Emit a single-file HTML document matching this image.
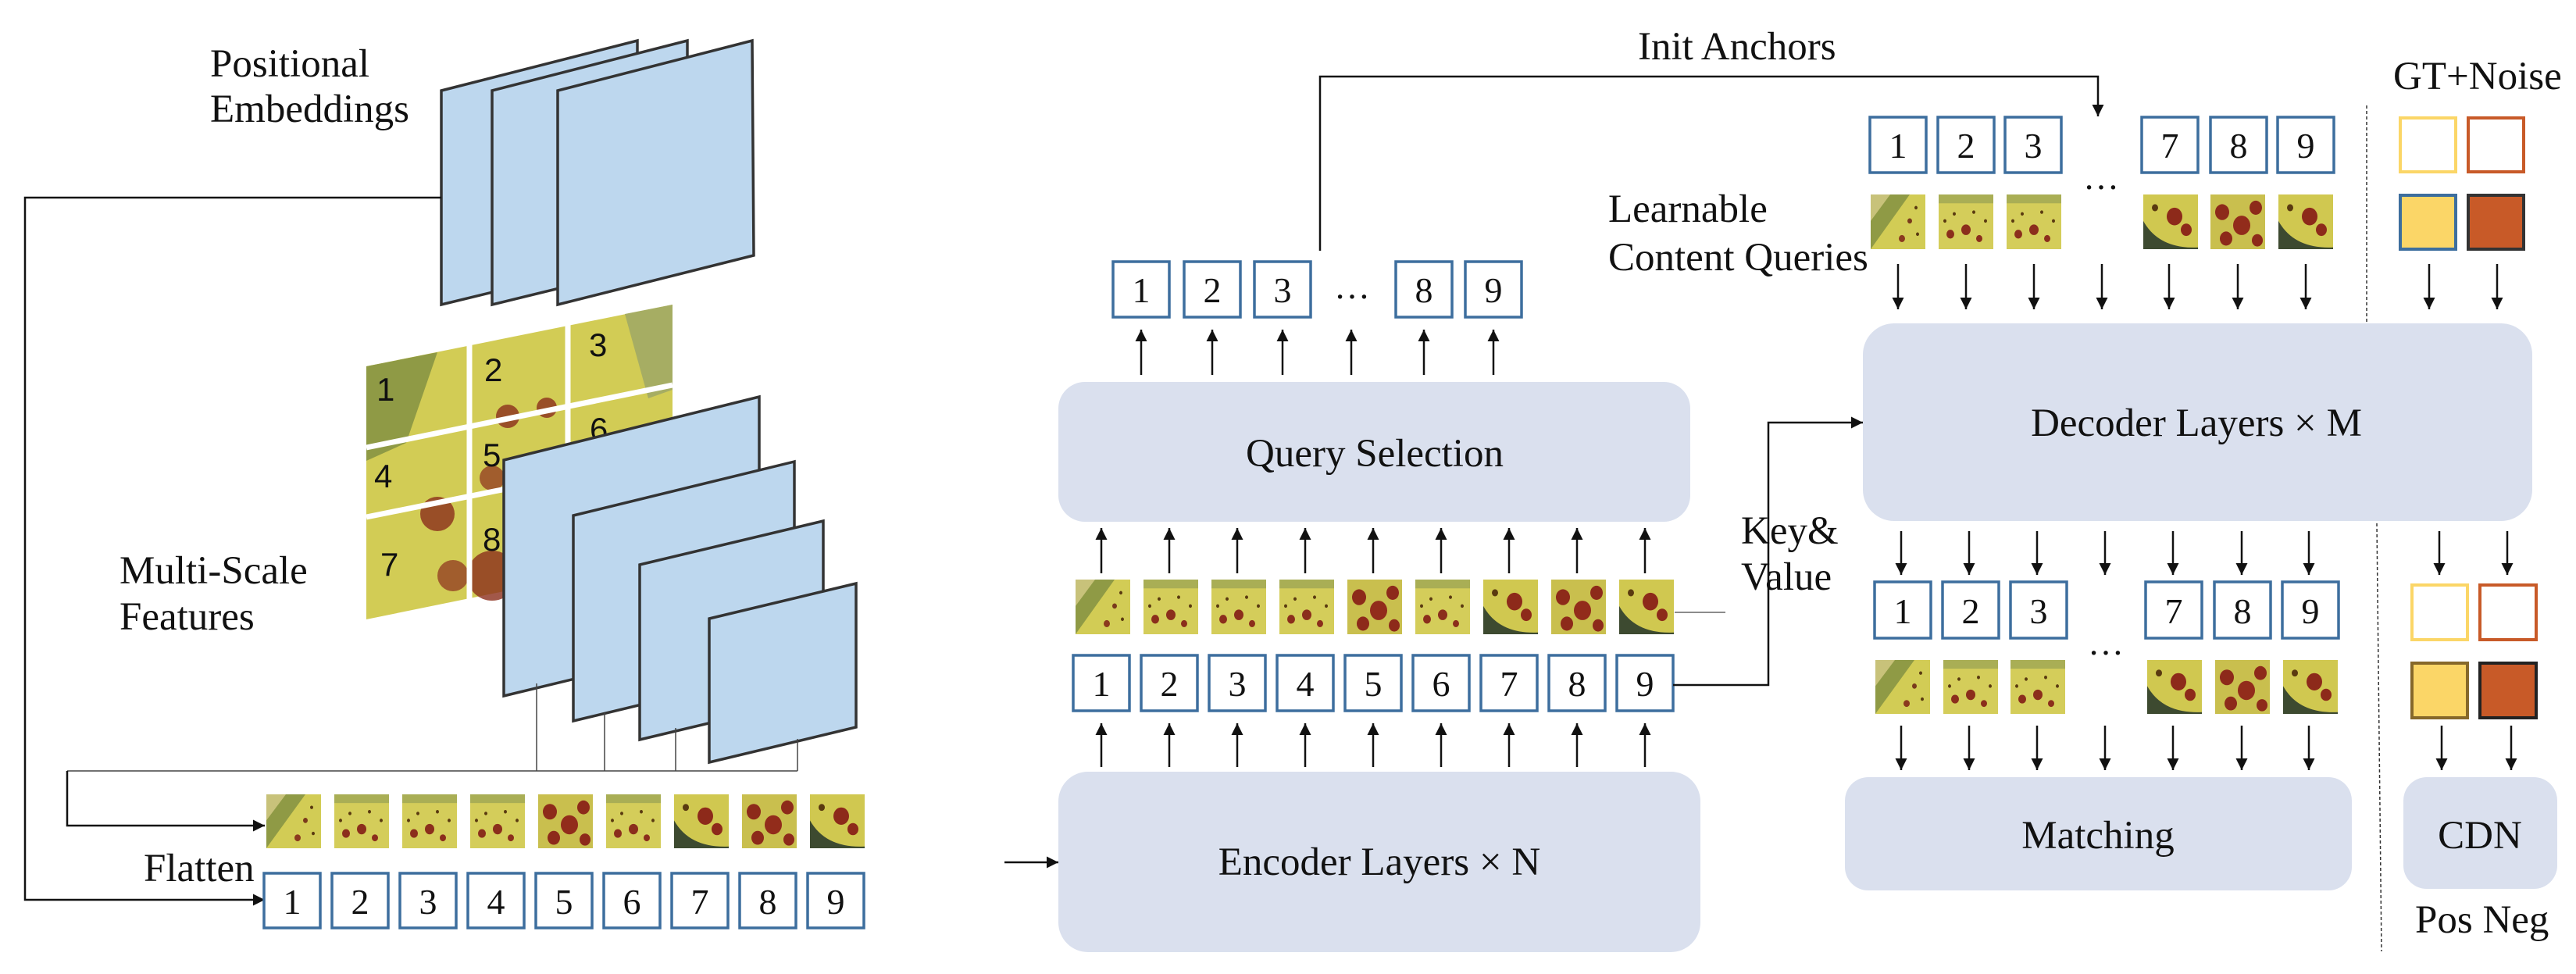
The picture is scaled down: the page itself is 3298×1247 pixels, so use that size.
<!DOCTYPE html>
<html><head><meta charset="utf-8"><style>
html,body{margin:0;padding:0;background:#fff;}
svg{display:block;}
text{font-family:"Liberation Serif",serif;fill:#111;}
.n{font-size:46px;text-anchor:middle;}
.g{font-size:42px;font-family:"Liberation Sans",sans-serif;}
.b{fill:#fff;stroke:#3d6e9e;stroke-width:3.5;}
.p{fill:#bdd7ee;stroke:#333;stroke-width:3.5;}
.r{fill:#dae0ee;}
.l{stroke:#111;stroke-width:2.5;fill:none;}
.t{font-size:51px;}
</style></head><body>
<svg width="3298" height="1247" viewBox="0 0 3298 1247" xmlns="http://www.w3.org/2000/svg">
<defs>
<marker id="a" viewBox="0 0 10 10" refX="10" refY="5" markerWidth="17" markerHeight="15" markerUnits="userSpaceOnUse" orient="auto"><path d="M0,0L10,5L0,10z" fill="#111"/></marker>
<symbol id="s1" viewBox="0 0 70 62" preserveAspectRatio="none"><rect width="70" height="62" fill="#d2cc55"/><path d="M0,0H50L0,62z" fill="#8f9a45"/><path d="M0,0H25L0,30z" fill="#c8c27a"/><circle cx="50" cy="30" r="3" fill="#7a3a1c"/><circle cx="40" cy="50" r="4" fill="#8b3a1e"/><circle cx="60" cy="45" r="2" fill="#5a3a10"/><circle cx="58" cy="15" r="2" fill="#5a3a10"/></symbol>
<symbol id="s2" viewBox="0 0 70 62" preserveAspectRatio="none"><rect width="70" height="62" fill="#d4cd5a"/><rect width="70" height="10" fill="#a9ae55"/><circle cx="15" cy="45" r="5" fill="#8b2e1c"/><circle cx="35" cy="40" r="6" fill="#8b2e1c"/><circle cx="52" cy="50" r="4" fill="#8b2e1c"/><circle cx="20" cy="22" r="2" fill="#5a3a10"/><circle cx="45" cy="20" r="2" fill="#5a3a10"/><circle cx="60" cy="30" r="2" fill="#5a3a10"/><circle cx="8" cy="30" r="2" fill="#5a3a10"/></symbol>
<symbol id="s3" viewBox="0 0 70 62" preserveAspectRatio="none"><rect width="70" height="62" fill="#c9bf4e"/><circle cx="15" cy="20" r="9" fill="#8d2a1a"/><circle cx="40" cy="35" r="11" fill="#922c1b"/><circle cx="58" cy="15" r="8" fill="#8d2a1a"/><circle cx="20" cy="50" r="8" fill="#8d2a1a"/><circle cx="60" cy="52" r="7" fill="#8d2a1a"/></symbol>
<symbol id="s4" viewBox="0 0 70 62" preserveAspectRatio="none"><rect width="70" height="62" fill="#d0c850"/><path d="M0,30Q20,62 70,60V62H0z" fill="#3d4a30"/><circle cx="40" cy="25" r="10" fill="#8d2a1a"/><circle cx="55" cy="40" r="7" fill="#8d2a1a"/><circle cx="15" cy="15" r="4" fill="#5a3a10"/></symbol>
</defs>

<!-- Positional embeddings -->
<text class="t" x="269" y="98">Positional</text>
<text class="t" x="269" y="156">Embeddings</text>
<polygon class="p" points="565,116 816,52 816,329 565,390"/>
<polygon class="p" points="630,116 880,52 880,329 630,390"/>
<polygon class="p" points="714,116 963,52 965,327 714,390"/>
<polyline class="l" points="565,253 32,253 32,1152 339,1152" marker-end="url(#a)"/>

<!-- image grid -->
<g>
<polygon points="469,469 861,390 861,713 469,793" fill="#d2cc55"/>
<polygon points="469,469 560,451 520,567 469,590" fill="#8f9a45"/>
<polygon points="800,402 861,390 861,499 830,510" fill="#a6ad63"/>
<circle cx="560" cy="658" r="22" fill="#8b2e1c" opacity=".8"/>
<circle cx="650" cy="533" r="15" fill="#8b2e1c" opacity=".8"/>
<circle cx="700" cy="522" r="13" fill="#8b2e1c" opacity=".8"/>
<circle cx="630" cy="737" r="32" fill="#8b2e1c" opacity=".8"/>
<circle cx="580" cy="737" r="20" fill="#8b2e1c" opacity=".7"/>
<circle cx="630" cy="612" r="16" fill="#8b2e1c" opacity=".7"/>
<line x1="601" y1="431" x2="601" y2="794" stroke="#fff" stroke-width="7"/>
<line x1="727" y1="408" x2="727" y2="794" stroke="#fff" stroke-width="7"/>
<line x1="469" y1="573" x2="861" y2="493" stroke="#fff" stroke-width="7"/>
<line x1="469" y1="662" x2="861" y2="583" stroke="#fff" stroke-width="7"/>
<text class="g" x="482" y="513">1</text><text class="g" x="620" y="488">2</text><text class="g" x="754" y="456">3</text>
<text class="g" x="479" y="624">4</text><text class="g" x="618" y="597">5</text><text class="g" x="755" y="564">6</text>
<text class="g" x="487" y="737">7</text><text class="g" x="618" y="705">8</text>
</g>
<text class="t" x="153" y="747">Multi-Scale</text>
<text class="t" x="153" y="806">Features</text>

<!-- feature planes -->
<polygon class="p" points="645,589 972,508 972,812 645,891"/>
<polygon class="p" points="734,660 1017,591 1017,855 734,923"/>
<polygon class="p" points="819,723 1054,667 1054,891 819,947"/>
<polygon class="p" points="908,792 1096,747 1096,931 908,976"/>
<g stroke="#444" stroke-width="1.5">
<line x1="687" y1="875" x2="687" y2="987"/><line x1="774" y1="913" x2="774" y2="987"/><line x1="865" y1="932" x2="865" y2="987"/><line x1="1021" y1="946" x2="1021" y2="987"/>
<line x1="86" y1="987" x2="1021" y2="987"/>
</g>
<polyline points="86,987 86,1057 339,1057" stroke="#111" stroke-width="2.5" fill="none" marker-end="url(#a)"/>

<!-- left thumbs -->
<use href="#s1" x="341" y="1017" width="70" height="69"/><use href="#s2" x="428" y="1017" width="70" height="69"/><use href="#s2" x="515" y="1017" width="70" height="69"/><use href="#s2" x="602" y="1017" width="70" height="69"/><use href="#s3" x="689" y="1017" width="70" height="69"/><use href="#s2" x="776" y="1017" width="70" height="69"/><use href="#s4" x="863" y="1017" width="70" height="69"/><use href="#s3" x="950" y="1017" width="70" height="69"/><use href="#s4" x="1037" y="1017" width="70" height="69"/>
<text class="t" x="184" y="1128">Flatten</text>
<g>
<rect class="b" x="338" y="1118" width="72" height="70"/><rect class="b" x="425" y="1118" width="72" height="70"/><rect class="b" x="512" y="1118" width="72" height="70"/><rect class="b" x="599" y="1118" width="72" height="70"/><rect class="b" x="686" y="1118" width="72" height="70"/><rect class="b" x="773" y="1118" width="72" height="70"/><rect class="b" x="860" y="1118" width="72" height="70"/><rect class="b" x="947" y="1118" width="72" height="70"/><rect class="b" x="1034" y="1118" width="72" height="70"/>
<text class="n" x="374" y="1170">1</text><text class="n" x="461" y="1170">2</text><text class="n" x="548" y="1170">3</text><text class="n" x="635" y="1170">4</text><text class="n" x="722" y="1170">5</text><text class="n" x="809" y="1170">6</text><text class="n" x="896" y="1170">7</text><text class="n" x="983" y="1170">8</text><text class="n" x="1070" y="1170">9</text>
</g>

<!-- encoder / query selection -->
<line class="l" x1="1286" y1="1104" x2="1355" y2="1104" marker-end="url(#a)"/>
<rect class="r" x="1355" y="988" width="822" height="231" rx="38"/>
<text class="t" x="1766" y="1120" text-anchor="middle">Encoder Layers × N</text>
<g class="l">
<line x1="1410" y1="982" x2="1410" y2="926" marker-end="url(#a)"/><line x1="1497" y1="982" x2="1497" y2="926" marker-end="url(#a)"/><line x1="1584" y1="982" x2="1584" y2="926" marker-end="url(#a)"/><line x1="1671" y1="982" x2="1671" y2="926" marker-end="url(#a)"/><line x1="1758" y1="982" x2="1758" y2="926" marker-end="url(#a)"/><line x1="1845" y1="982" x2="1845" y2="926" marker-end="url(#a)"/><line x1="1932" y1="982" x2="1932" y2="926" marker-end="url(#a)"/><line x1="2019" y1="982" x2="2019" y2="926" marker-end="url(#a)"/><line x1="2106" y1="982" x2="2106" y2="926" marker-end="url(#a)"/>
<line x1="1410" y1="734" x2="1410" y2="676" marker-end="url(#a)"/><line x1="1497" y1="734" x2="1497" y2="676" marker-end="url(#a)"/><line x1="1584" y1="734" x2="1584" y2="676" marker-end="url(#a)"/><line x1="1671" y1="734" x2="1671" y2="676" marker-end="url(#a)"/><line x1="1758" y1="734" x2="1758" y2="676" marker-end="url(#a)"/><line x1="1845" y1="734" x2="1845" y2="676" marker-end="url(#a)"/><line x1="1932" y1="734" x2="1932" y2="676" marker-end="url(#a)"/><line x1="2019" y1="734" x2="2019" y2="676" marker-end="url(#a)"/><line x1="2106" y1="734" x2="2106" y2="676" marker-end="url(#a)"/>
</g>
<rect class="b" x="1374" y="839" width="72" height="71"/><rect class="b" x="1461" y="839" width="72" height="71"/><rect class="b" x="1548" y="839" width="72" height="71"/><rect class="b" x="1635" y="839" width="72" height="71"/><rect class="b" x="1722" y="839" width="72" height="71"/><rect class="b" x="1809" y="839" width="72" height="71"/><rect class="b" x="1896" y="839" width="72" height="71"/><rect class="b" x="1983" y="839" width="72" height="71"/><rect class="b" x="2070" y="839" width="72" height="71"/>
<text class="n" x="1410" y="891">1</text><text class="n" x="1497" y="891">2</text><text class="n" x="1584" y="891">3</text><text class="n" x="1671" y="891">4</text><text class="n" x="1758" y="891">5</text><text class="n" x="1845" y="891">6</text><text class="n" x="1932" y="891">7</text><text class="n" x="2019" y="891">8</text><text class="n" x="2106" y="891">9</text>
<use href="#s1" x="1377" y="742" width="70" height="70"/><use href="#s2" x="1464" y="742" width="70" height="70"/><use href="#s2" x="1551" y="742" width="70" height="70"/><use href="#s2" x="1638" y="742" width="70" height="70"/><use href="#s3" x="1725" y="742" width="70" height="70"/><use href="#s2" x="1812" y="742" width="70" height="70"/><use href="#s4" x="1899" y="742" width="70" height="70"/><use href="#s3" x="1986" y="742" width="70" height="70"/><use href="#s4" x="2073" y="742" width="70" height="70"/>
<line x1="2144" y1="784" x2="2209" y2="784" stroke="#666" stroke-width="1.5"/>
<polyline class="l" points="2142,877 2264,877 2264,541 2385,541" marker-end="url(#a)"/>
<text class="t" x="2229" y="696">Key&amp;</text>
<text class="t" x="2229" y="755">Value</text>

<rect class="r" x="1355" y="489" width="809" height="179" rx="34"/>
<text class="t" x="1760" y="597" text-anchor="middle">Query Selection</text>
<g class="l">
<line x1="1461" y1="480" x2="1461" y2="422" marker-end="url(#a)"/><line x1="1552" y1="480" x2="1552" y2="422" marker-end="url(#a)"/><line x1="1642" y1="480" x2="1642" y2="422" marker-end="url(#a)"/><line x1="1730" y1="480" x2="1730" y2="422" marker-end="url(#a)"/><line x1="1823" y1="480" x2="1823" y2="422" marker-end="url(#a)"/><line x1="1912" y1="480" x2="1912" y2="422" marker-end="url(#a)"/>
</g>
<rect class="b" x="1425" y="335" width="72" height="71"/><rect class="b" x="1516" y="335" width="72" height="71"/><rect class="b" x="1606" y="335" width="72" height="71"/><rect class="b" x="1787" y="335" width="72" height="71"/><rect class="b" x="1876" y="335" width="72" height="71"/>
<text class="n" x="1461" y="387">1</text><text class="n" x="1552" y="387">2</text><text class="n" x="1642" y="387">3</text><text class="n" x="1731" y="382">…</text><text class="n" x="1823" y="387">8</text><text class="n" x="1912" y="387">9</text>
<polyline class="l" points="1690,321 1690,98 2686,98 2686,149" marker-end="url(#a)"/>
<text class="t" x="2097" y="76">Init Anchors</text>
<text class="t" x="2059" y="284">Learnable</text>
<text class="t" x="2059" y="346">Content Queries</text>

<!-- decoder -->
<rect class="b" x="2394" y="150" width="72" height="71"/><rect class="b" x="2481" y="150" width="72" height="71"/><rect class="b" x="2567" y="150" width="72" height="71"/><rect class="b" x="2742" y="150" width="72" height="71"/><rect class="b" x="2830" y="150" width="72" height="71"/><rect class="b" x="2916" y="150" width="72" height="71"/>
<text class="n" x="2430" y="202">1</text><text class="n" x="2517" y="202">2</text><text class="n" x="2603" y="202">3</text><text class="n" x="2690" y="242">…</text><text class="n" x="2778" y="202">7</text><text class="n" x="2866" y="202">8</text><text class="n" x="2952" y="202">9</text>
<use href="#s1" x="2395" y="249" width="70" height="70"/><use href="#s2" x="2482" y="249" width="70" height="70"/><use href="#s2" x="2569" y="249" width="70" height="70"/><use href="#s4" x="2744" y="249" width="70" height="70"/><use href="#s3" x="2830" y="249" width="70" height="70"/><use href="#s4" x="2917" y="249" width="70" height="70"/>
<g class="l">
<line x1="2430" y1="338" x2="2430" y2="396" marker-end="url(#a)"/><line x1="2517" y1="338" x2="2517" y2="396" marker-end="url(#a)"/><line x1="2604" y1="338" x2="2604" y2="396" marker-end="url(#a)"/><line x1="2691" y1="338" x2="2691" y2="396" marker-end="url(#a)"/><line x1="2777" y1="338" x2="2777" y2="396" marker-end="url(#a)"/><line x1="2865" y1="338" x2="2865" y2="396" marker-end="url(#a)"/><line x1="2952" y1="338" x2="2952" y2="396" marker-end="url(#a)"/>
<line x1="3110" y1="338" x2="3110" y2="396" marker-end="url(#a)"/><line x1="3197" y1="338" x2="3197" y2="396" marker-end="url(#a)"/>
</g>
<text class="t" x="3064" y="114">GT+Noise</text>
<rect x="3073" y="151" width="71" height="69" fill="#fff" stroke="#fbd667" stroke-width="4"/>
<rect x="3160" y="151" width="71" height="69" fill="#fff" stroke="#c85a28" stroke-width="4"/>
<rect x="3073" y="250" width="71" height="69" fill="#fbd667" stroke="#3d6e9e" stroke-width="4"/>
<rect x="3160" y="250" width="71" height="69" fill="#c85a28" stroke="#333" stroke-width="4"/>
<line x1="3030" y1="135" x2="3030" y2="414" stroke="#333" stroke-width="1.5" stroke-dasharray="4,3"/>
<line x1="3043" y1="670" x2="3049" y2="1218" stroke="#333" stroke-width="1.5" stroke-dasharray="4,3"/>

<rect class="r" x="2385" y="414" width="857" height="253" rx="40"/>
<text class="t" x="2812" y="558" text-anchor="middle">Decoder Layers × M</text>

<g class="l">
<line x1="2434" y1="680" x2="2434" y2="736" marker-end="url(#a)"/><line x1="2521" y1="680" x2="2521" y2="736" marker-end="url(#a)"/><line x1="2608" y1="680" x2="2608" y2="736" marker-end="url(#a)"/><line x1="2695" y1="680" x2="2695" y2="736" marker-end="url(#a)"/><line x1="2782" y1="680" x2="2782" y2="736" marker-end="url(#a)"/><line x1="2870" y1="680" x2="2870" y2="736" marker-end="url(#a)"/><line x1="2956" y1="680" x2="2956" y2="736" marker-end="url(#a)"/>
<line x1="3123" y1="680" x2="3123" y2="736" marker-end="url(#a)"/><line x1="3210" y1="680" x2="3210" y2="736" marker-end="url(#a)"/>
<line x1="2434" y1="929" x2="2434" y2="986" marker-end="url(#a)"/><line x1="2521" y1="929" x2="2521" y2="986" marker-end="url(#a)"/><line x1="2608" y1="929" x2="2608" y2="986" marker-end="url(#a)"/><line x1="2695" y1="929" x2="2695" y2="986" marker-end="url(#a)"/><line x1="2782" y1="929" x2="2782" y2="986" marker-end="url(#a)"/><line x1="2870" y1="929" x2="2870" y2="986" marker-end="url(#a)"/><line x1="2956" y1="929" x2="2956" y2="986" marker-end="url(#a)"/>
<line x1="3126" y1="929" x2="3126" y2="986" marker-end="url(#a)"/><line x1="3215" y1="929" x2="3215" y2="986" marker-end="url(#a)"/>
</g>
<rect class="b" x="2400" y="745" width="72" height="72"/><rect class="b" x="2487" y="745" width="72" height="72"/><rect class="b" x="2574" y="745" width="72" height="72"/><rect class="b" x="2747" y="745" width="72" height="72"/><rect class="b" x="2835" y="745" width="72" height="72"/><rect class="b" x="2922" y="745" width="72" height="72"/>
<text class="n" x="2436" y="798">1</text><text class="n" x="2523" y="798">2</text><text class="n" x="2610" y="798">3</text><text class="n" x="2696" y="838">…</text><text class="n" x="2783" y="798">7</text><text class="n" x="2871" y="798">8</text><text class="n" x="2958" y="798">9</text>
<use href="#s1" x="2401" y="845" width="70" height="69"/><use href="#s2" x="2488" y="845" width="70" height="69"/><use href="#s2" x="2574" y="845" width="70" height="69"/><use href="#s4" x="2749" y="845" width="70" height="69"/><use href="#s3" x="2836" y="845" width="70" height="69"/><use href="#s4" x="2923" y="845" width="70" height="69"/>
<rect x="3088" y="749" width="71" height="70" fill="#fff" stroke="#fbd667" stroke-width="4"/>
<rect x="3175" y="749" width="72" height="70" fill="#fff" stroke="#c85a28" stroke-width="4"/>
<rect x="3088" y="849" width="71" height="70" fill="#fbd667" stroke="#86682a" stroke-width="4"/>
<rect x="3175" y="849" width="72" height="70" fill="#c85a28" stroke="#222" stroke-width="4"/>

<rect class="r" x="2362" y="995" width="649" height="145" rx="30"/>
<text class="t" x="2686" y="1086" text-anchor="middle">Matching</text>
<rect class="r" x="3077" y="995" width="197" height="143" rx="30"/>
<text class="t" x="3175" y="1086" text-anchor="middle">CDN</text>
<text class="t" x="3092" y="1194">Pos Neg</text>
</svg>
</body></html>
